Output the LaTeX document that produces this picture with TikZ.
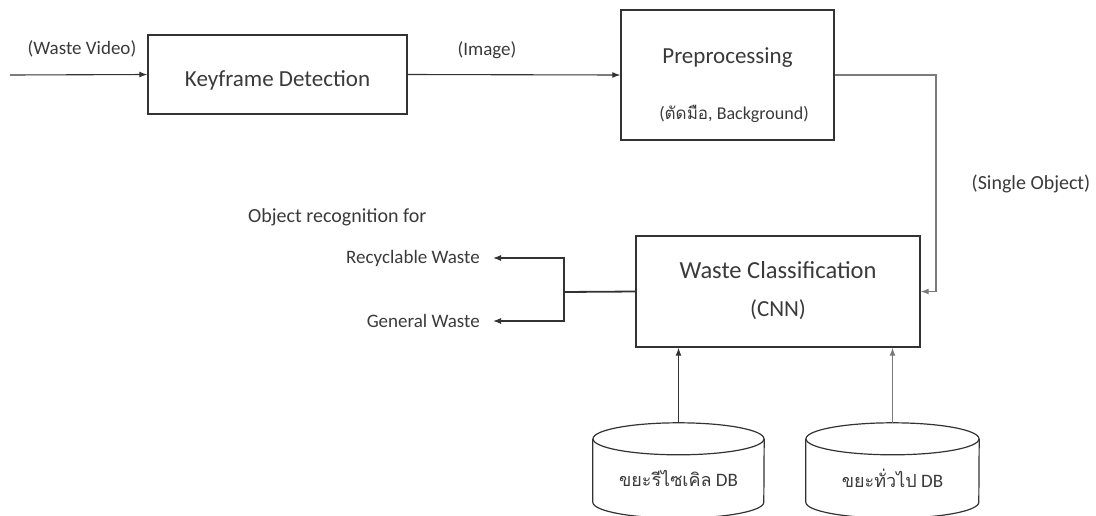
\documentclass[tikz,border=0pt]{standalone}
\usepackage{fontspec}
\setmainfont{Carlito}
\newfontfamily\thaifont[Script=Thai]{Loma}
\usetikzlibrary{arrows.meta}

\definecolor{ink}{HTML}{3A3A3A}
\definecolor{wire}{HTML}{333333}
\definecolor{softwire}{HTML}{7A7A7A}

\tikzset{
  box/.style={draw=wire, line width=1.4pt, rectangle, inner sep=0pt},
  boxtext/.style={text=ink, font=\fontsize{23}{27}\selectfont},
  lbl/.style={text=ink, font=\fontsize{19}{23}\selectfont, inner sep=0pt},
  flow/.style={draw=wire, line width=1.1pt, -{Latex[length=8pt,width=6pt]}},
  softflow/.style={draw=softwire, line width=1.1pt, -{Latex[length=8pt,width=6pt]}},
  dbbody/.style={rectangle, inner sep=0pt, minimum height=63pt},
  dbline/.style={draw=wire, line width=1.2pt},
}

\begin{document}
\begin{tikzpicture}[x=1pt,y=-1pt]
  \useasboundingbox (0,0) rectangle (1096,515);

  % processing blocks
  \node[box, minimum width=259pt, minimum height=79pt] (kf) at (277.5,74.5) {};
  \node[boxtext] (kft) at (277.5,80) {Keyframe Detection};

  \node[box, minimum width=213pt, minimum height=130pt] (pre) at (727.5,75) {};
  \node[boxtext] (pret) at (727.5,58) {Preprocessing};
  \node[lbl, font=\fontsize{18}{24}\selectfont] (pres) at (734,114)
    {({\thaifont\fontsize{17}{24}\selectfont ตัดมือ}, Background)};

  \node[box, minimum width=284pt, minimum height=111pt] (wc) at (778,291.5) {};
  \node[boxtext, font=\fontsize{24.5}{28}\selectfont] (wct) at (778,270) {Waste Classification};
  \node[boxtext] (wcn) at (778,310) {(CNN)};

  % databases: body between the centres of the top and bottom ellipses
  \node[dbbody, minimum width=171pt] (db1) at (678.5,470.5) {};
  \node[dbbody, minimum width=173pt] (db2) at (892.5,470.5) {};
  \foreach \db/\r in {db1/85.5, db2/86.5} {
    \draw[dbline] (\db.north) ellipse [x radius=\r, y radius=16];
    \draw[dbline] (\db.north west) -- (\db.south west)
      arc [start angle=180, end angle=0, x radius=\r, y radius=16] -- (\db.north east);
  }
  \coordinate (db1top) at ([yshift=16pt]db1.north);
  \coordinate (db2top) at ([yshift=16pt]db2.north);
  \node[text=ink] (db1t) at (678.5,478)
    {{\thaifont\fontsize{18}{24}\selectfont ขยะรีไซเคิล}\fontsize{19}{24}\selectfont\ DB};
  \node[text=ink] (db2t) at (892.5,478)
    {{\thaifont\fontsize{18}{24}\selectfont ขยะทั่วไป}\fontsize{19}{24}\selectfont\ DB};

  % flow labels
  \node[lbl] (vid) at (82,49) {(Waste Video)};
  \node[lbl] (img) at (487,50) {(Image)};
  \node[lbl, font=\fontsize{20}{24}\selectfont] (single) at (1031,184) {(Single Object)};
  \node[lbl, font=\fontsize{20}{24}\selectfont, anchor=west] (objrec) at (248,217)
    {Object recognition for};
  \node[lbl, anchor=east, inner xsep=13pt] (rec) at (493,258) {Recyclable Waste};
  \node[lbl, anchor=east, inner xsep=13pt] (gen) at (493,321) {General Waste};

  % connectors
  \coordinate (src) at (10,75);
  \coordinate (bend) at (936,75);
  \coordinate (split) at (564,292);

  \draw[flow] (src) -- (kf.west);
  \draw[flow] (kf.east) -- (pre.west);
  \draw[softflow] (pre.east) -- (bend) |- (wc.east);
  \draw[draw=wire, line width=1.8pt] (wc.west) -- (split);
  \draw[flow] (split) |- (rec.east);
  \draw[flow] (split) |- (gen.east);
  \draw[flow] (db1top) -- (db1top |- wc.south);
  \draw[softflow] (db2top) -- (db2top |- wc.south);
\end{tikzpicture}
\end{document}
